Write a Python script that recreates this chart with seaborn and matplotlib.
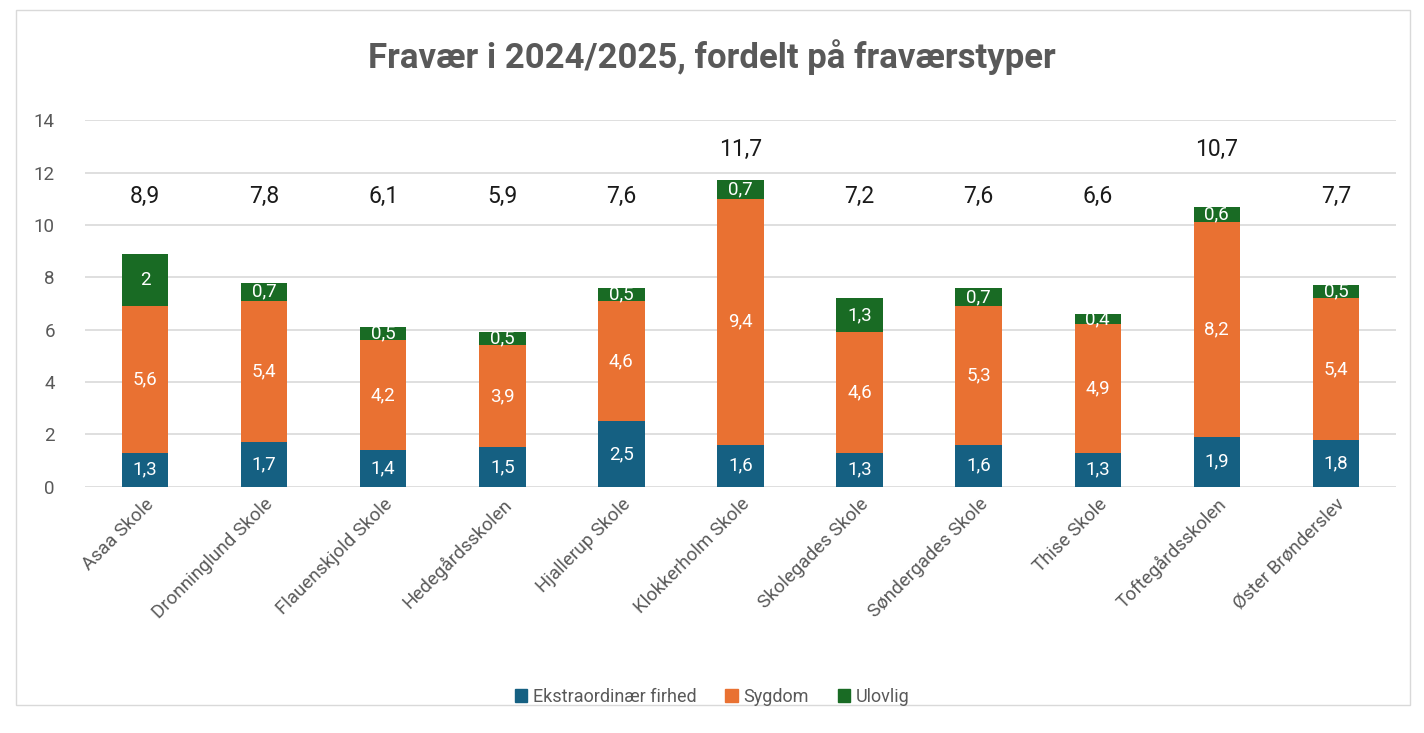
import matplotlib
matplotlib.use("Agg")
import matplotlib.pyplot as plt
import pandas as pd
import seaborn as sns
from matplotlib.patches import Rectangle

schools = ["Asaa Skole", "Dronninglund Skole", "Flauenskjold Skole", "Hedegårdsskolen",
           "Hjallerup Skole", "Klokkerholm Skole", "Skolegades Skole", "Søndergades Skole",
           "Thise Skole", "Toftegårdsskolen", "Øster Brønderslev"]
ekstra = [1.3, 1.7, 1.4, 1.5, 2.5, 1.6, 1.3, 1.6, 1.3, 1.9, 1.8]
sygdom = [5.6, 5.4, 4.2, 3.9, 4.6, 9.4, 4.6, 5.3, 4.9, 8.2, 5.4]
ulovlig = [2.0, 0.7, 0.5, 0.5, 0.5, 0.7, 1.3, 0.7, 0.4, 0.6, 0.5]
totals = [8.9, 7.8, 6.1, 5.9, 7.6, 11.7, 7.2, 7.6, 6.6, 10.7, 7.7]

series = ["Ekstraordinær firhed", "Sygdom", "Ulovlig"]
colors = {"Ekstraordinær firhed": "#156082", "Sygdom": "#E97132", "Ulovlig": "#196B24"}

df = pd.DataFrame({"Skole": schools, "Ekstraordinær firhed": ekstra,
                   "Sygdom": sygdom, "Ulovlig": ulovlig, "Total": totals})
df["bund_syg"] = df["Ekstraordinær firhed"]
df["bund_ul"] = df["Ekstraordinær firhed"] + df["Sygdom"]


def fmt(v):
    return f"{v:g}".replace(".", ",")


sns.set_theme(style="white")
plt.rcParams["font.family"] = ["Roboto", "DejaVu Sans"]

fig = plt.figure(figsize=(14.24, 7.33), dpi=100)
ax = fig.add_axes([0.060, 0.336, 0.920, 0.500])

bottoms = {"Ekstraordinær firhed": None, "Sygdom": "bund_syg", "Ulovlig": "bund_ul"}
for s in series:
    kw = {}
    if bottoms[s] is not None:
        kw["bottom"] = df[bottoms[s]].values
    sns.barplot(data=df, x="Skole", y=s, color=colors[s], width=0.39,
                ax=ax, saturation=1, label=s, zorder=3, linewidth=0, **kw)

# segment labels
for i, row in df.iterrows():
    base = 0
    for s in series:
        v = row[s]
        ax.text(i, base + v / 2, fmt(v), ha="center", va="center",
                color="white", fontsize=13.5, zorder=4)
        base += v
    ty = 12.9 if row["Total"] > 10 else 11.1
    ax.text(i, ty, fmt(row["Total"]), ha="center", va="center",
            color="#1a1a1a", fontsize=16.5, zorder=4)

ax.set_ylim(0, 14)
ax.set_xlim(-0.5, len(schools) - 0.5)
ax.set_yticks(range(0, 15, 2))
ax.yaxis.grid(True, color="#D9D9D9", linewidth=1.2, zorder=0)
ax.set_axisbelow(True)
for sp in ax.spines.values():
    sp.set_visible(False)
ax.set_xlabel("")
ax.set_ylabel("")
ax.tick_params(axis="y", colors="#595959", labelsize=13.5, length=0, pad=22)
ax.tick_params(axis="x", colors="#595959", labelsize=13.5, length=0, pad=6)
plt.setp(ax.get_xticklabels(), rotation=45, ha="right", rotation_mode="anchor")
if ax.get_legend():
    ax.get_legend().remove()

fig.suptitle("Fravær i 2024/2025, fordelt på fraværstyper", y=0.922, va="center",
             fontsize=25, fontweight="bold", color="#595959")

handles = [Rectangle((0, 0), 1, 1, color=colors[s]) for s in series]
fig.legend(handles, series, loc="center", bbox_to_anchor=(0.5, 0.049), ncol=3,
           frameon=False, fontsize=13, handlelength=0.7, handleheight=0.7,
           handletextpad=0.3, columnspacing=1.6, labelcolor="#595959")

fig.patches.append(Rectangle((0.011, 0.038), 0.979, 0.948, transform=fig.transFigure,
                             fill=False, edgecolor="#D9D9D9", linewidth=1))

fig.savefig("out.png", dpi=100)
